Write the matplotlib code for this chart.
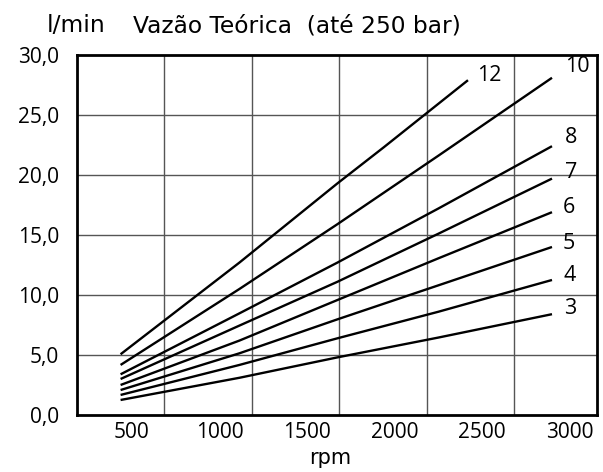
"""Vazão teórica x rotação — recriação do gráfico de catálogo."""
import matplotlib
matplotlib.use("Agg")
import matplotlib.pyplot as plt

# rotações (rpm)
rpm = [435, 1114, 1674, 2250, 2900]
rpm_12 = [435, 1114, 1674, 1938, 2420]

# vazão (l/min) por deslocamento
flow_3 = [1.25, 3.1, 4.8, 6.45, 8.4]
flow_4 = [1.67, 4.17, 6.39, 8.6, 11.25]
flow_5 = [2.08, 5.14, 7.97, 10.8, 14.0]
flow_6 = [2.5, 6.2, 9.58, 13.05, 16.9]
flow_7 = [3.0, 7.45, 11.1, 15.1, 19.7]
flow_8 = [3.39, 8.47, 12.7, 17.2, 22.4]
flow_10 = [4.17, 10.5, 15.9, 21.6, 28.1]
flow_12 = [5.06, 12.7, 19.3, 22.3, 27.9]

series_labels = ["3", "4", "5", "6", "7", "8", "10", "12"]
x_ticks = [500, 1000, 1500, 2000, 2500, 3000]
y_ticks = [0, 5, 10, 15, 20, 25, 30]
y_tick_labels = ["0,0", "5,0", "10,0", "15,0", "20,0", "25,0", "30,0"]
# linhas de grade verticais ficam deslocadas em relação aos rótulos (como no original)
x_grid = [685, 1185, 1685, 2185, 2685]

LABEL_FONT = ["Open Sans", "DejaVu Sans"]
TEXT_FONT = ["DejaVu Sans"]

fig = plt.figure(figsize=(6.03, 4.72), dpi=100)
ax = fig.add_axes([0.1277, 0.1208, 0.8623, 0.7627])

ax.set_xlim(186, 3157)
ax.set_ylim(0, 30)

# grade
for g in x_grid:
    ax.axvline(g, color="#555555", lw=1.0, zorder=1)
for y in y_ticks[1:-1]:
    ax.axhline(y, color="#555555", lw=1.0, zorder=1)

all_flows = [flow_3, flow_4, flow_5, flow_6, flow_7, flow_8, flow_10, flow_12]
for lab, fl in zip(series_labels, all_flows):
    xs = rpm_12 if lab == "12" else rpm
    ax.plot(xs, fl, color="black", lw=1.7, solid_capstyle="butt", zorder=3)

# rótulos das curvas (ao lado da ponta de cada linha)
label_pos = {
    "12": (2469, 28.3), "10": (2974, 29.0), "8": (2974, 23.1), "7": (2974, 20.2),
    "6": (2963, 17.3), "5": (2963, 14.3), "4": (2963, 11.6), "3": (2968, 8.9),
}
for lab in series_labels:
    px, py = label_pos[lab]
    ax.text(px, py, lab, fontsize=15.5, family=LABEL_FONT, ha="left", va="center", zorder=4)

ax.set_xticks(x_ticks)
ax.set_xticklabels([str(v) for v in x_ticks], family=LABEL_FONT, fontsize=15)
ax.set_yticks(y_ticks)
ax.set_yticklabels(y_tick_labels, family=LABEL_FONT, fontsize=15)
ax.tick_params(axis="x", length=0, pad=5)
ax.tick_params(axis="y", length=0, pad=13)

for s in ax.spines.values():
    s.set_linewidth(2.0)
    s.set_color("black")

fig.text(0.548, 0.030, "rpm", family=TEXT_FONT, fontsize=15, ha="center", va="center")
fig.text(0.078, 0.945, "l/min", family=TEXT_FONT, fontsize=16.8, ha="left", va="center")
fig.text(0.221, 0.945, "Vazão Teórica  (até 250 bar)", family=TEXT_FONT, fontsize=16.8,
         ha="left", va="center")

fig.savefig("out.png", dpi=100)
